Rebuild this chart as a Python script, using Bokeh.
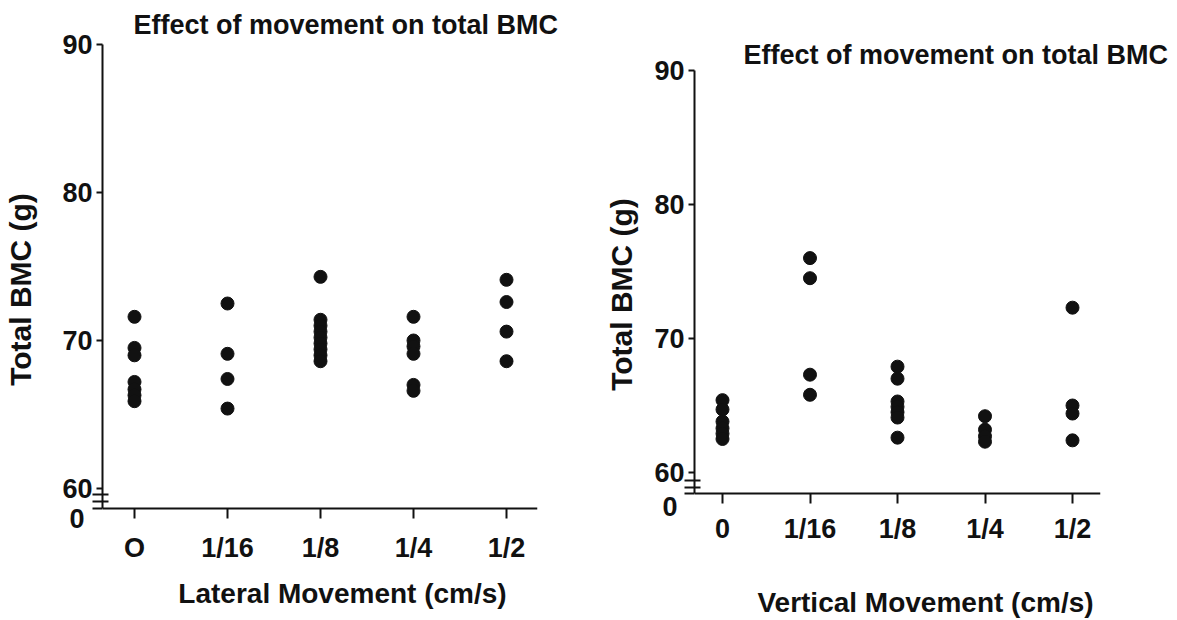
import math

from bokeh.plotting import figure
from bokeh.layouts import row
from bokeh.models import Range1d, FixedTicker, ColumnDataSource
from bokeh.core.properties import value
from bokeh.embed import file_html
from bokeh.resources import INLINE

FONT = "Liberation Sans"
INK = "#111111"

TITLE = "Effect of movement on total BMC"
Y_LABEL = "Total BMC (g)"
y_ticks = [60, 70, 80, 90]

# Lateral movement groups
lateral_ticks = ["O", "1/16", "1/8", "1/4", "1/2"]
lateral_0 = [71.6, 69.5, 69.0, 67.2, 66.7, 66.3, 65.9]
lateral_1_16 = [72.5, 69.1, 67.4, 65.4]
lateral_1_8 = [74.3, 71.4, 71.0, 70.6, 70.2, 69.8, 69.4, 69.0, 68.6]
lateral_1_4 = [71.6, 70.0, 69.6, 69.1, 67.0, 66.6]
lateral_1_2 = [74.1, 72.6, 70.6, 68.6]

# Vertical movement groups
vertical_ticks = ["0", "1/16", "1/8", "1/4", "1/2"]
vertical_0 = [65.4, 64.7, 63.8, 63.3, 62.9, 62.5]
vertical_1_16 = [76.0, 74.5, 67.3, 65.8]
vertical_1_8 = [67.9, 67.0, 65.3, 64.9, 64.5, 64.1, 62.6]
vertical_1_4 = [64.2, 63.2, 62.7, 62.3]
vertical_1_2 = [72.3, 65.0, 64.4, 62.4]

# Both figures share one frame band (row layouts align frames); each
# panel's axes sit at fixed locations inside it, so the tick labels stay
# within the frame.
FRAME_TOP, FRAME_BOTTOM, HEIGHT = 44, 564, 620


def panel(tick_labels, groups, x_label, width, geom):
    n = len(tick_labels)
    # horizontal geometry in pixels (figure-local)
    ax_x, first_x, last_x, end_x = geom["x"]
    px_x = (last_x - first_x) / (n - 1)
    x_lo = -(first_x - ax_x) / px_x
    x_hi = (n - 1) + (end_x - last_x) / px_x
    # vertical geometry: pixel rows of the 90 and 60 ticks and of the x axis
    y90, y60, floor_px = geom["y"]
    px_y = (y60 - y90) / (90 - 60)
    y_hi = 90 + (y90 - FRAME_TOP) / px_y
    y_lo = 90 - (FRAME_BOTTOM - y90) / px_y
    floor = 90 - (floor_px - y90) / px_y

    def dx(px):
        return x_lo + px / px_x

    def dy(py):
        return 90 - (py - y90) / px_y

    p = figure(width=width, height=HEIGHT,
               x_range=Range1d(x_lo, x_hi), y_range=Range1d(y_lo, y_hi),
               min_border_left=ax_x, min_border_right=width - end_x,
               min_border_top=FRAME_TOP,
               min_border_bottom=HEIGHT - FRAME_BOTTOM,
               output_backend="svg", toolbar_location=None,
               background_fill_color="white", border_fill_color="white")
    p.outline_line_color = None
    p.grid.visible = False

    xs, ys = [], []
    for i, vals in enumerate(groups):
        xs.extend([i] * len(vals))
        ys.extend(vals)
    src = ColumnDataSource(dict(x=xs, y=ys))
    p.scatter("x", "y", source=src, size=13, fill_color=INK, line_color=INK)

    xa = p.xaxis[0]
    xa.ticker = FixedTicker(ticks=list(range(n)))
    xa.major_label_overrides = {i: t for i, t in enumerate(tick_labels)}
    xa.fixed_location = floor
    ya = p.yaxis[0]
    ya.ticker = FixedTicker(ticks=y_ticks)
    ya.axis_line_color = None
    for ax in (xa, ya):
        ax.axis_line_width = 2
        ax.major_tick_line_width = 2
        ax.major_tick_line_color = INK
        ax.major_tick_in = 0
        ax.minor_tick_in = 0
        ax.minor_tick_out = 0
        ax.major_label_text_font = FONT
        ax.major_label_text_font_size = "27px"
        ax.major_label_text_font_style = "bold"
        ax.major_label_text_color = INK
    xa.axis_line_color = INK
    xa.major_tick_out = 10
    xa.major_label_standoff = geom["tick_standoff"]
    ya.major_tick_out = 6
    ya.major_label_standoff = 4

    # y axis line from the zero floor up to 90
    p.segment(x0=[x_lo], x1=[x_lo], y0=[floor], y1=[90],
              line_color=INK, line_width=2, level="overlay")
    # scale break: two short strokes across the axis, plus the zero tick
    b0, b1 = geom["breaks"]
    seg_y = [dy(y60 + b0), dy(y60 + b1), floor]
    p.segment(x0=[dx(-10)] * 3, x1=[dx(6), dx(6), dx(0)], y0=seg_y, y1=seg_y,
              line_color=INK, line_width=2, level="overlay")

    bold = dict(text_font=value(FONT), text_font_style="bold",
                text_color=INK, level="overlay")
    # zero label below the break
    zx, zy = geom["zero"]
    p.text(x=[dx(-zx)], y=[dy(floor_px + zy)], text=["0"],
           text_align="right", text_baseline="middle",
           text_font_size=value("27px"), **bold)
    # panel title
    tx, ty = geom["title"]
    p.text(x=[dx(tx)], y=[dy(ty)], text=[TITLE],
           text_align="left", text_baseline="middle",
           text_font_size=value("27px"), **bold)
    # axis titles
    lx, ly = geom["xlabel"]
    p.text(x=[dx(lx)], y=[dy(floor_px + ly)], text=[x_label],
           text_align="center", text_baseline="middle",
           text_font_size=value("28px"), **bold)
    vx, vy = geom["ylabel"]
    p.text(x=[dx(-vx)], y=[dy(vy)], text=[Y_LABEL], angle=[math.pi / 2],
           text_align="center", text_baseline="middle",
           text_font_size=value("30px"), **bold)
    return p


left_panel = panel(
    lateral_ticks,
    [lateral_0, lateral_1_16, lateral_1_8, lateral_1_4, lateral_1_2],
    "Lateral Movement (cm/s)", 590,
    dict(x=(102, 134, 506, 537), y=(44, 488, 508), tick_standoff=14,
         breaks=(6, 13), zero=(18, 10), title=(31, 24),
         xlabel=(240, 85), ylabel=(82, 289)))

right_panel = panel(
    vertical_ticks,
    [vertical_0, vertical_1_16, vertical_1_8, vertical_1_4, vertical_1_2],
    "Vertical Movement (cm/s)", 587,
    dict(x=(104, 132, 482, 510), y=(70, 472, 493), tick_standoff=10,
         breaks=(8, 15), zero=(17, 13), title=(49, 54),
         xlabel=(231, 109), ylabel=(73, 294)))

layout = row(left_panel, right_panel)
open("out.html", "w").write(file_html(layout, INLINE))
